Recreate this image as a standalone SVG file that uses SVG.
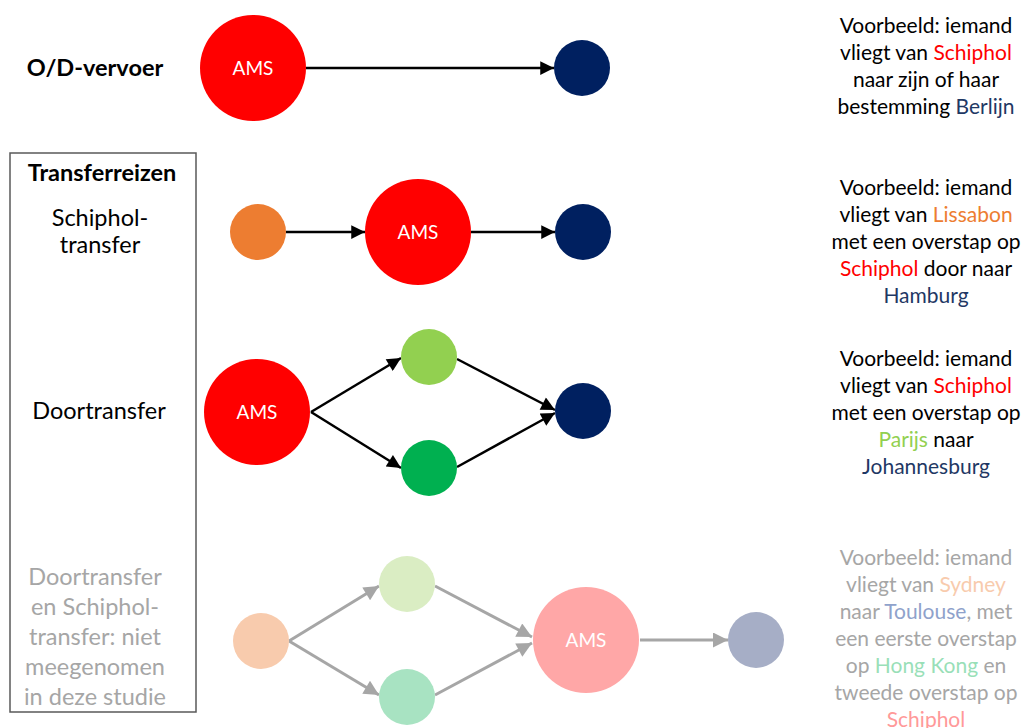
<svg xmlns="http://www.w3.org/2000/svg" width="1029" height="728" viewBox="0 0 1029 728">
<defs>
<marker id="ah" viewBox="0 0 10 10" refX="10" refY="5" markerWidth="7" markerHeight="5.5" markerUnits="strokeWidth" orient="auto"><path d="M0,0 L10,5 L0,10 z" fill="#000"/></marker>
<marker id="ahg" viewBox="0 0 10 10" refX="10" refY="5" markerWidth="6" markerHeight="5" markerUnits="strokeWidth" orient="auto"><path d="M0,0 L10,5 L0,10 z" fill="#A6A6A6"/></marker>
<style>
text{font-family:Lato,"Liberation Sans",sans-serif;font-size:21px;text-anchor:middle;fill:#000}
.b{font-weight:bold;font-size:23.5px}
.l{font-size:23.5px}
.g{fill:#A6A6A6}
.w{fill:#fff;font-size:19px}
.e{stroke:#000;stroke-width:2.5;fill:none;marker-end:url(#ah)}
.eg{stroke:#A6A6A6;stroke-width:3;fill:none;marker-end:url(#ahg)}
.red{fill:#FF0000}.navy{fill:#1F3864}.org{fill:#ED7D31}.lg{fill:#92D050}
</style>
</defs>
<rect x="10" y="153" width="186" height="559" fill="none" stroke="#595959" stroke-width="1.5"/>
<g id="labels">
<text class="b" x="95" y="76">O/D-vervoer</text>
<text class="b" x="102" y="181">Transferreizen</text>
<text class="l" x="100" y="226">Schiphol-</text>
<text class="l" x="100" y="253">transfer</text>
<text class="l" x="99" y="419">Doortransfer</text>
<text class="g l" x="95" y="585">Doortransfer</text>
<text class="g l" x="95" y="615">en Schiphol-</text>
<text class="g l" x="95" y="645">transfer: niet</text>
<text class="g l" x="95" y="675">meegenomen</text>
<text class="g l" x="95" y="705">in deze studie</text>
</g>
<g id="connectors">
<line class="e" x1="306" y1="68" x2="554" y2="68"/>
<line class="e" x1="286" y1="232" x2="365" y2="232"/>
<line class="e" x1="471" y1="232" x2="555" y2="232"/>
<line class="e" x1="311" y1="412" x2="401" y2="358"/>
<line class="e" x1="311" y1="412" x2="401" y2="468"/>
<line class="e" x1="457" y1="359" x2="555" y2="410"/>
<line class="e" x1="457" y1="467" x2="555" y2="413"/>
<line class="eg" x1="289" y1="641" x2="379" y2="586"/>
<line class="eg" x1="289" y1="641" x2="379" y2="695"/>
<line class="eg" x1="435" y1="586" x2="532" y2="637"/>
<line class="eg" x1="435" y1="695" x2="532" y2="643"/>
<line class="eg" x1="640" y1="640" x2="728" y2="640"/>
</g>
<g id="r1-ams"><circle cx="253" cy="68" r="53" fill="#FF0000"/><text class="w" x="253" y="75">AMS</text></g>
<g id="r1-dest"><circle cx="582" cy="68" r="28" fill="#002060"/></g>
<g id="r2-orig"><circle cx="258" cy="232" r="28" fill="#ED7D31"/></g>
<g id="r2-ams"><circle cx="418" cy="232" r="53" fill="#FF0000"/><text class="w" x="418" y="239">AMS</text></g>
<g id="r2-dest"><circle cx="583" cy="232" r="28" fill="#002060"/></g>
<g id="r3-ams"><circle cx="257" cy="412" r="53" fill="#FF0000"/><text class="w" x="257" y="419">AMS</text></g>
<g id="r3-paris"><circle cx="429" cy="357" r="28" fill="#92D050"/></g>
<g id="r3-alt"><circle cx="429" cy="468" r="28" fill="#00B050"/></g>
<g id="r3-dest"><circle cx="583" cy="411" r="28" fill="#002060"/></g>
<g id="r4-orig"><circle cx="261" cy="641" r="28" fill="#F8CBAD"/></g>
<g id="r4-hk1"><circle cx="407" cy="584" r="28" fill="#DAEDC3"/></g>
<g id="r4-hk2"><circle cx="407" cy="697" r="28" fill="#A8E3C2"/></g>
<g id="r4-ams"><circle cx="586" cy="640" r="53" fill="#FFA7A7"/><text class="w" x="586" y="647">AMS</text></g>
<g id="r4-dest"><circle cx="756" cy="640" r="28" fill="#A6AEC6"/></g>
<g id="ex1">
<text x="926" y="33">Voorbeeld: iemand</text>
<text x="926" y="60">vliegt van <tspan class="red">Schiphol</tspan></text>
<text x="926" y="87">naar zijn of haar</text>
<text x="926" y="114">bestemming <tspan class="navy">Berlijn</tspan></text>
</g>
<g id="ex2">
<text x="926" y="195">Voorbeeld: iemand</text>
<text x="926" y="222">vliegt van <tspan class="org">Lissabon</tspan></text>
<text x="926" y="249">met een overstap op</text>
<text x="926" y="276"><tspan class="red">Schiphol</tspan> door naar</text>
<text x="926" y="303" class="navy">Hamburg</text>
</g>
<g id="ex3">
<text x="926" y="366">Voorbeeld: iemand</text>
<text x="926" y="393">vliegt van <tspan class="red">Schiphol</tspan></text>
<text x="926" y="420">met een overstap op</text>
<text x="926" y="447"><tspan class="lg">Parijs</tspan> naar</text>
<text x="926" y="474" class="navy">Johannesburg</text>
</g>
<g id="ex4">
<text class="g" x="926" y="565">Voorbeeld: iemand</text>
<text class="g" x="926" y="592">vliegt van <tspan fill="#F8CBAD">Sydney</tspan></text>
<text class="g" x="926" y="619">naar <tspan fill="#8FA2CB">Toulouse</tspan>, met</text>
<text class="g" x="926" y="646">een eerste overstap</text>
<text class="g" x="926" y="673">op <tspan fill="#99DFB8">Hong Kong</tspan> en</text>
<text class="g" x="926" y="700">tweede overstap op</text>
<text x="926" y="727" style="fill:#FF9999">Schiphol</text>
</g>
</svg>
